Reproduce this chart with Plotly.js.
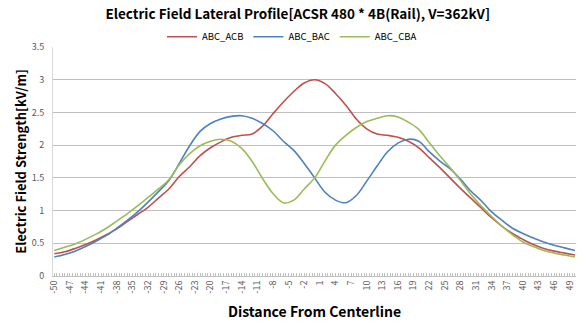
<!DOCTYPE html>
<html>
<head>
<meta charset="utf-8">
<script src="https://cdn.plot.ly/plotly-3.0.1.min.js"></script>
<style>html,body{margin:0;padding:0;background:#fff;}#chart{width:581px;height:324px;}</style>
</head>
<body>
<div id="chart"></div>
<script>
var distance = [-50,-48,-46,-44,-42,-40,-38,-36,-34,-32,-30,-28,-26,-24,-22,-20,-18,-16,-14,-12,-10,-8,-6,-4,-2,0,2,4,6,8,10,12,14,16,18,20,22,24,26,28,30,32,34,36,38,40,42,44,46,48,50];

var abcAcb = [0.34,0.37,0.42,0.48,0.55,0.63,0.72,0.83,0.94,1.05,1.19,1.33,1.52,1.67,1.84,1.96,2.05,2.12,2.15,2.17,2.29,2.48,2.66,2.82,2.95,3.00,2.94,2.79,2.61,2.40,2.25,2.17,2.15,2.12,2.06,1.96,1.81,1.66,1.50,1.34,1.19,1.04,0.89,0.76,0.65,0.56,0.48,0.42,0.38,0.35,0.32];

var abcBac = [0.29,0.33,0.38,0.45,0.53,0.62,0.73,0.85,0.98,1.13,1.29,1.46,1.72,1.99,2.21,2.33,2.40,2.44,2.45,2.41,2.33,2.22,2.06,1.92,1.72,1.50,1.28,1.16,1.12,1.23,1.45,1.68,1.90,2.03,2.09,2.06,1.90,1.76,1.64,1.48,1.30,1.15,0.98,0.85,0.73,0.65,0.58,0.52,0.47,0.43,0.39];

var abcCba = [0.39,0.44,0.49,0.56,0.64,0.73,0.84,0.95,1.07,1.20,1.33,1.47,1.70,1.87,1.99,2.06,2.09,2.06,1.95,1.75,1.49,1.26,1.12,1.16,1.33,1.50,1.76,2.00,2.15,2.27,2.36,2.41,2.45,2.43,2.35,2.24,2.04,1.84,1.66,1.46,1.25,1.07,0.91,0.76,0.63,0.52,0.45,0.39,0.35,0.32,0.29];

var xTicks = [-50,-47,-44,-41,-38,-35,-32,-29,-26,-23,-20,-17,-14,-11,-8,-5,-2,1,4,7,10,13,16,19,22,25,28,31,34,37,40,43,46,49];

var seriesNames = ['ABC_ACB','ABC_BAC','ABC_CBA'];
var seriesColors = ['#C0504D','#4F81BD','#9BBB59'];
var seriesValues = [abcAcb, abcBac, abcCba];

var font = '"Noto Sans CJK KR", "Noto Sans", sans-serif';

var traces = seriesValues.map(function(v, i){
  return {
    x: distance, y: v, type: 'scatter', mode: 'lines', name: seriesNames[i],
    line: {color: seriesColors[i], width: 1.6, shape: 'spline', smoothing: 1}
  };
});

var layout = {
  width: 581, height: 324,
  margin: {l: 53, r: 5, t: 47, b: 48},
  paper_bgcolor: '#fff', plot_bgcolor: '#fff',
  font: {family: font, size: 9, color: '#595959'},
  title: {
    text: 'Electric Field Lateral Profile[ACSR 480 * 4B(Rail), V=362kV]',
    font: {family: font, size: 13.5, color: '#000', weight: 'bold'},
    x: 0.468, xref: 'paper', xanchor: 'center',
    y: 0.955, yref: 'container', yanchor: 'middle',
    automargin: false
  },
  showlegend: true,
  legend: {
    orientation: 'h', x: 0.457, xref: 'paper', xanchor: 'center',
    y: 1.045, yref: 'paper', yanchor: 'middle',
    font: {family: font, size: 9.5, color: '#000'},
    itemwidth: 30, tracegroupgap: 0, bgcolor: 'rgba(0,0,0,0)'
  },
  xaxis: {
    range: [-50.25, 50.2],
    tickmode: 'array', tickvals: xTicks, ticktext: xTicks.map(String),
    tickangle: -90, ticks: '', ticklen: 0,
    showgrid: false, zeroline: false,
    showline: true, linecolor: '#BFBFBF', linewidth: 1,
    minor: {dtick: 0.5, tick0: 0, ticks: 'inside', ticklen: 3, tickcolor: '#BFBFBF', tickwidth: 1, showgrid: false},
    tickfont: {family: font, size: 9, color: '#595959'},
    title: {text: 'Distance From Centerline', font: {family: font, size: 14, color: '#000', weight: 'bold'}, standoff: 14},
    automargin: false
  },
  yaxis: {
    range: [0, 3.5], dtick: 0.5, tick0: 0,
    showgrid: true, gridcolor: '#BFBFBF', gridwidth: 1,
    zeroline: false, showline: true, linecolor: '#D9D9D9', linewidth: 1,
    ticks: '', ticklabelstandoff: 6,
    tickfont: {family: font, size: 9, color: '#595959'},
    title: {text: 'Electric Field Strength[kV/m]', font: {family: font, size: 13, color: '#000', weight: 'bold'}, standoff: 2},
    automargin: false
  }
};

Plotly.newPlot('chart', traces, layout, {displayModeBar: false, responsive: false});
</script>
</body>
</html>
